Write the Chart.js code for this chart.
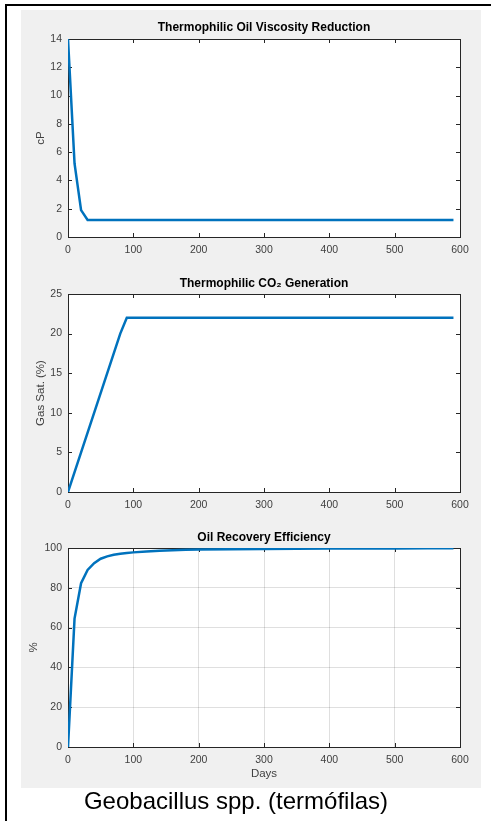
<!DOCTYPE html>
<html>
<head>
<meta charset="utf-8">
<script src="https://cdn.jsdelivr.net/npm/chart.js@4"></script>
<style>
  body { margin: 0; background: #fff; }
  #frame { position: relative; width: 491px; height: 821px; overflow: hidden; background: #fff; }
  #bl { position: absolute; left: 5px; top: 4px; width: 2px; height: 817px; background: #000; }
  #bt { position: absolute; left: 5px; top: 4px; width: 486px; height: 2px; background: #000; }
  #panel { position: absolute; left: 21px; top: 10px; width: 460px; height: 778px; background: #f0f0f0; }
  canvas { position: absolute; left: 21px; }
  #caption { position: absolute; left: 0; width: 472px; top: 789px; text-align: center;
             font: 24px/24px "Liberation Sans", Arial, sans-serif; color: #000; }
</style>
</head>
<body>
<div id="frame">
  <div id="panel"></div>
  <canvas id="c1" width="460" height="255" style="top:10px"></canvas>
  <canvas id="c2" width="460" height="253" style="top:265px"></canvas>
  <canvas id="c3" width="460" height="270" style="top:518px"></canvas>
  <div id="bl"></div>
  <div id="bt"></div>
  <div id="caption">Geobacillus spp. (termófilas)</div>
</div>
<script>
// values (days / value)
const viscDays = [0, 10, 20, 30, 590];
const viscosity = [14, 5.2, 1.9, 1.2, 1.2];

const co2Days = [0, 80, 90, 590];
const co2Sat = [0, 20, 22, 22];

const recDays = [0, 10, 20, 30, 40, 50, 60, 70, 80, 90, 100, 120, 140, 160, 180, 200, 250, 300, 350, 400, 450, 500, 550, 590];
const recovery = [0, 64.5, 82.3, 89, 92.4, 94.6, 95.8, 96.6, 97.1, 97.5, 97.8, 98.3, 98.6, 98.9, 99.1, 99.2, 99.4, 99.55, 99.65, 99.7, 99.75, 99.8, 99.85, 99.9];

const xTicks = [0, 100, 200, 300, 400, 500, 600];

const FONT = '"Liberation Sans", Arial, Helvetica, sans-serif';
const AXIS = '#262626';
const TXT = '#404040';
const BLUE = '#0072BD';

Chart.defaults.font.family = FONT;

// white axes background, box and inward ticks like matlab
const matlabAxes = {
  id: 'matlabAxes',
  beforeDraw(chart) {
    const a = chart.chartArea, ctx = chart.ctx;
    ctx.save();
    ctx.fillStyle = '#fff';
    ctx.fillRect(a.left, a.top, a.right - a.left, a.bottom - a.top);
    ctx.restore();
  },
  beforeDatasetsDraw(chart) {
    const a = chart.chartArea, ctx = chart.ctx;
    const xs = chart.scales.x, ys = chart.scales.y;
    ctx.save();
    ctx.strokeStyle = AXIS;
    ctx.lineWidth = 1;
    ctx.beginPath();
    xs.ticks.forEach(t => {
      const px = Math.round(xs.getPixelForValue(t.value)) + 0.5;
      ctx.moveTo(px, a.bottom); ctx.lineTo(px, a.bottom - 4);
      ctx.moveTo(px, a.top); ctx.lineTo(px, a.top + 4);
    });
    ys.ticks.forEach(t => {
      const py = Math.round(ys.getPixelForValue(t.value)) + 0.5;
      ctx.moveTo(a.left, py); ctx.lineTo(a.left + 4, py);
      ctx.moveTo(a.right, py); ctx.lineTo(a.right - 4, py);
    });
    ctx.stroke();
    ctx.strokeRect(Math.round(a.left) + 0.5, Math.round(a.top) + 0.5,
                   Math.round(a.right - a.left), Math.round(a.bottom - a.top));
    ctx.restore();
  }
};

function makeChart(id, cfg) {
  const pts = cfg.xs.map((d, i) => ({ x: d, y: cfg.ys[i] }));
  return new Chart(document.getElementById(id), {
    type: 'line',
    data: {
      datasets: [{
        data: pts,
        borderColor: BLUE,
        borderWidth: 2.5,
        pointRadius: 0,
        tension: 0,
        fill: false
      }]
    },
    options: {
      responsive: false,
      animation: false,
      layout: { padding: { left: 0, right: 21, top: 0, bottom: 0 } },
      plugins: {
        legend: { display: false },
        tooltip: { enabled: false },
        title: {
          display: true,
          text: cfg.title,
          fullSize: false,
          color: '#000',
          font: { size: 12, weight: 'bold', family: FONT },
          padding: { top: cfg.titleTop, bottom: cfg.titleBottom }
        }
      },
      scales: {
        x: {
          type: 'linear',
          min: 0, max: 600,
          afterBuildTicks: s => { s.ticks = xTicks.map(v => ({ value: v })); },
          afterFit: s => { s.height = cfg.xHeight; },
          ticks: { color: TXT, font: { size: 10.5 }, padding: 7, maxRotation: 0 },
          grid: { display: cfg.grid, drawTicks: false, color: 'rgba(38,38,38,0.15)' },
          border: { display: false },
          title: cfg.xTitle ? { display: true, text: cfg.xTitle, color: TXT, font: { size: 11.5 }, padding: { bottom: 7 } } : { display: false }
        },
        y: {
          min: 0, max: cfg.yMax,
          afterBuildTicks: s => { s.ticks = cfg.yTicks.map(v => ({ value: v })); },
          afterFit: s => { s.width = 47; },
          ticks: { color: TXT, font: { size: 10.5 }, padding: 6 },
          grid: { display: cfg.grid, drawTicks: false, color: 'rgba(38,38,38,0.15)' },
          border: { display: false },
          title: { display: true, text: cfg.yTitle, color: TXT, font: { size: 11.5 }, padding: { top: cfg.yTitlePad } }
        }
      }
    },
    plugins: [matlabAxes]
  });
}

makeChart('c1', {
  title: 'Thermophilic Oil Viscosity Reduction',
  xs: viscDays, ys: viscosity,
  yMax: 14, yTicks: [0, 2, 4, 6, 8, 10, 12, 14],
  yTitle: 'cP', yTitlePad: 13.1,
  titleTop: 10.8, titleBottom: 3.8,
  xHeight: 28, grid: false
});

makeChart('c2', {
  title: 'Thermophilic CO\u2082 Generation',
  xs: co2Days, ys: co2Sat,
  yMax: 25, yTicks: [0, 5, 10, 15, 20, 25],
  yTitle: 'Gas Sat. (%)', yTitlePad: 13.1,
  titleTop: 11.3, titleBottom: 3.3,
  xHeight: 26, grid: false
});

makeChart('c3', {
  title: 'Oil Recovery Efficiency',
  xs: recDays, ys: recovery,
  yMax: 100, yTicks: [0, 20, 40, 60, 80, 100],
  yTitle: '%', yTitlePad: 6.1,
  xTitle: 'Days',
  titleTop: 12.8, titleBottom: 2.8,
  xHeight: 41, grid: true
});
</script>
</body>
</html>
